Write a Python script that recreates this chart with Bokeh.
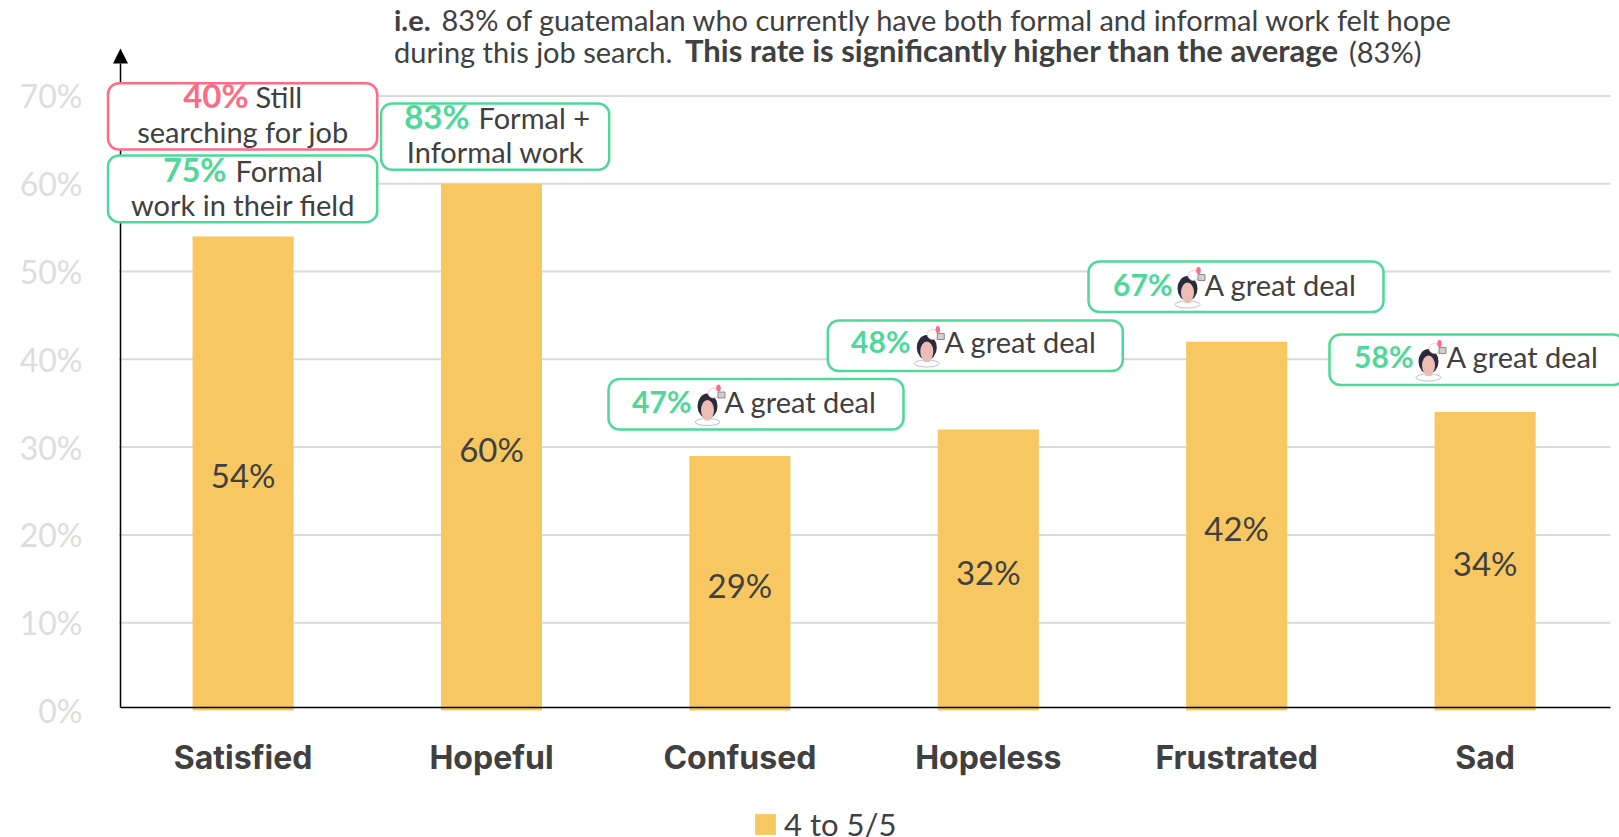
from bokeh.plotting import figure
from bokeh.models import (Range1d, FixedTicker, PrintfTickFormatter,
                          Label, BoxAnnotation, Arrow, NormalHead, Legend, LegendItem)
from bokeh.core.properties import value
from bokeh.embed import file_html
from bokeh.resources import INLINE

categories = ["Satisfied", "Hopeful", "Confused", "Hopeless", "Frustrated", "Sad"]
values = [54, 60, 29, 32, 42, 34]
y_ticks = [0, 10, 20, 30, 40, 50, 60, 70]
series_name = "4 to 5/5"

FONT = "Lato"
DARK = "#404040"
GREEN = "#4FD899"
RED = "#FF6B85"
YELLOW = "#F7C862"

W, H = 1619, 837
L, R, T, B = 100, 1619, 0, 837   # frame edges in page pixels
ZERO = 710                       # pixel of the value 0
PER_PCT = 8.78                   # pixels per percentage point
UNIT = 248.4                     # pixels per category
X0 = 118.4                       # pixel where the first category slot starts
xpos = [i + 0.5 for i in range(len(categories))]
p = figure(width=W, height=H, output_backend="svg", toolbar_location=None,
           x_range=Range1d((L - X0) / UNIT, (R - X0) / UNIT),
           y_range=Range1d((ZERO - B) / PER_PCT, (ZERO - T) / PER_PCT),
           min_border_left=L, min_border_right=W - R, min_border_top=T,
           min_border_bottom=H - B, outline_line_color=None, background_fill_color="white")
p.extra_x_ranges["px"] = Range1d(L, R)
p.extra_y_ranges["px"] = Range1d(B, T)

p.xgrid.visible = False
p.ygrid.visible = False
p.xaxis.visible = False
p.segment(x0=[118.5] * len(y_ticks[1:]), x1=[1610] * len(y_ticks[1:]), y0=y_ticks[1:], y1=y_ticks[1:],
          x_range_name="px", line_color="#DADADA", line_width=2)

ya = p.yaxis[0]
ya.ticker = FixedTicker(ticks=y_ticks)
ya.formatter = PrintfTickFormatter(format="%d%%")
ya.axis_line_color = None
ya.major_tick_line_color = None
ya.minor_tick_line_color = None
ya.major_label_text_font = FONT
ya.major_label_text_font_size = "32px"
ya.major_label_text_color = "#DDDDDD"
ya.major_label_standoff = 12

bars = p.vbar(x=xpos, top=values, width=0.407, bottom=0, fill_color=YELLOW, line_color=None)
p.text(x=xpos, y=[v / 2 for v in values], text=[f"{v}%" for v in values], text_font=value(FONT),
       text_font_size="33px", text_color=DARK, text_align="center", text_baseline="middle", y_offset=2)
p.text(x=xpos, y=[756.7] * len(categories), y_range_name="px", text=categories, text_font=value("Inter"),
       text_font_style="bold", text_font_size="32px", text_color=DARK, text_align="center",
       text_baseline="alphabetic")

p.segment(x0=[120], x1=[1610], y0=[707], y1=[707], x_range_name="px", y_range_name="px",
          line_color="black", line_width=1.5)
p.add_layout(Arrow(x_start=120, y_start=707, x_end=120, y_end=48, x_range_name="px", y_range_name="px",
                   line_color="black", line_width=1.5,
                   end=NormalHead(size=15, fill_color="black", line_color="black", line_width=0)))


def box(l, r, t, b, color):
    p.add_layout(BoxAnnotation(left=l, right=r, top=t, bottom=b, x_range_name="px", y_range_name="px",
                               fill_color="white", fill_alpha=1, line_color=color, line_alpha=1,
                               line_width=2.5, border_radius=11, level="annotation"))


def txt(x, y, s, color=DARK, bold=False, align="left", size=29):
    p.add_layout(Label(x=x, y=y - 0.41 * size, text=s, x_range_name="px", y_range_name="px", text_font=FONT,
                       text_font_size=f"{size}px", text_color=color, text_align=align, text_baseline="alphabetic",
                       text_font_style="bold" if bold else "normal"))


def icon(cx, top):
    kw = dict(x_range_name="px", y_range_name="px", level="overlay")
    p.ellipse([cx], [top + 43], width=25, height=7, fill_color="white", line_color="#999999", line_width=0.6, **kw)
    p.ellipse([cx], [top + 27], width=20, height=25, fill_color="#2A2A3C", line_color=None, **kw)
    p.rect([cx], [top + 39], width=6, height=5, fill_color="#EBBDB5", line_color=None, **kw)
    p.ellipse([cx], [top + 31], width=13, height=20, fill_color="#EBBDB5", line_color=None, **kw)
    p.ellipse([cx + 6], [top + 14], width=11, height=10, fill_color="white", line_color="#F9B9C5", line_width=0.8, **kw)
    p.rect([cx + 14], [top + 16], width=7, height=6, fill_color="#D0D0D0", line_color="#666666", line_width=0.7, **kw)
    p.ellipse([cx + 11], [top + 9], width=4.5, height=7, fill_color=RED, line_color=None, **kw)


# annotation boxes
box(107.5, 376.7, 82.7, 149, RED)
txt(248, 108, "40%", RED, True, "right", 33)
txt(255, 108, "Still")
txt(242.5, 143, "searching for job", align="center")

box(107.5, 376.7, 155, 221.7, GREEN)
txt(226, 181.7, "75%", GREEN, True, "right", 32)
txt(235, 181.7, "Formal")
txt(242.5, 216, "work in their field", align="center")

box(380.6, 608.7, 103, 169.3, GREEN)
txt(469, 129, "83%", GREEN, True, "right", 33)
txt(478, 129, "Formal +")
txt(495, 163, "Informal work", align="center")

for l, t, num_end, txt_start, base, num in [
    (608, 378.5, 691, 724, 412.7, "47%"),
    (827.3, 320, 910, 944, 353, "48%"),
    (1088, 261, 1172, 1204, 295.5, "67%"),
    (1329, 334, 1413, 1446, 368, "58%"),
]:
    box(l, l + 295, t, t + 50.5, GREEN)
    txt(num_end, base, num, GREEN, True, "right", 30)
    icon(l + 99, t)
    txt(txt_start, base, "A great deal")

# header
txt(393.5, 30.7, "i.e.", bold=True)
txt(441, 30.7, "83% of guatemalan who currently have both formal and informal work felt hope")
txt(393.5, 62.7, "during this job search.")
txt(684.5, 62.7, "This rate is significantly higher than the average", bold=True, size=31)
txt(1348.5, 62.7, "(83%)")

legend = Legend(items=[LegendItem(label=value(series_name), renderers=[bars])], location=(652, -6),
                orientation="horizontal", background_fill_alpha=0, border_line_color=None,
                glyph_width=26, glyph_height=26, padding=0, margin=0, label_standoff=6,
                label_text_font=FONT, label_text_font_size="31px", label_text_color=DARK)
p.add_layout(legend, "center")

open("out.html", "w").write(file_html(p, INLINE))
